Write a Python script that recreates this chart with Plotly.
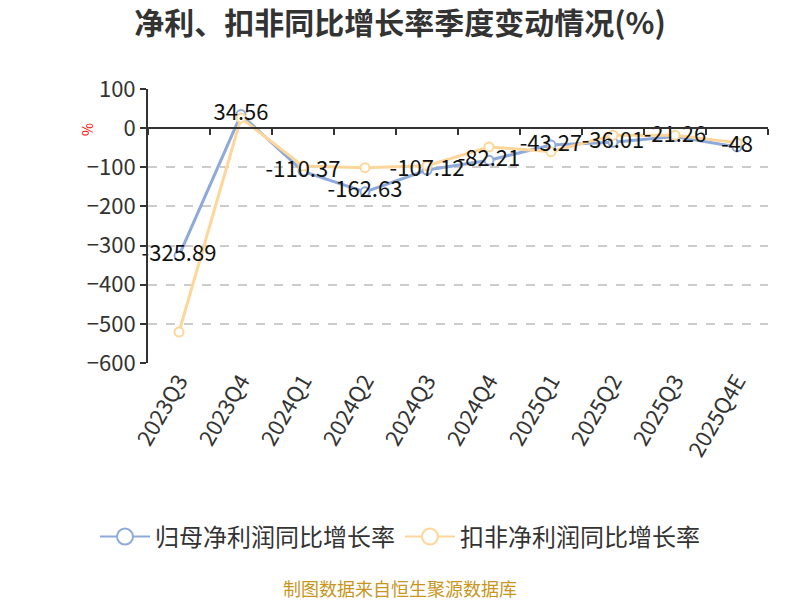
import plotly.graph_objects as go

quarters = ["2023Q3", "2023Q4", "2024Q1", "2024Q2", "2024Q3", "2024Q4",
            "2025Q1", "2025Q2", "2025Q3", "2025Q4E"]
net_profit_yoy = [-325.89, 34.56, -110.37, -162.63, -107.12, -82.21,
                  -43.27, -36.01, -21.26, -48]
deducted_yoy = [-521, 26, -97, -101, -96, -48, -60, -18, -18, -37]
net_labels = ["-325.89", "34.56", "-110.37", "-162.63", "-107.12", "-82.21",
              "-43.27", "-36.01", "-21.26", "-48"]
series_names = ["归母净利润同比增长率", "扣非净利润同比增长率"]

FONT = "Noto Sans CJK SC"
BLUE = "#8eaadb"
ORANGE = "#ffd699"

fig = go.Figure()
for vals, name, col in [(net_profit_yoy, series_names[0], BLUE),
                        (deducted_yoy, series_names[1], ORANGE)]:
    fig.add_trace(go.Scatter(
        x=quarters, y=vals, mode="lines+markers", name=name, showlegend=False,
        line=dict(color=col, width=3),
        marker=dict(symbol="circle", size=9, color="white", line=dict(color=col, width=2)),
    ))
fig.add_trace(go.Scatter(
    x=quarters, y=net_profit_yoy, mode="text", text=net_labels, cliponaxis=False,
    textposition="middle center", textfont=dict(size=22, color="#111", family=FONT),
    showlegend=False, hoverinfo="skip",
))
# legend entries with bigger symbols
for name, col in zip(series_names, [BLUE, ORANGE]):
    fig.add_trace(go.Scatter(
        x=[None], y=[None], mode="lines+markers", name=name,
        line=dict(color=col, width=2),
        marker=dict(symbol="circle", size=18, color="white", line=dict(color=col, width=2)),
    ))
# helper trace for the zero axis with boundary ticks
fig.add_trace(go.Scatter(
    x=quarters, y=[None] * len(quarters), xaxis="x2", showlegend=False, hoverinfo="skip",
))

fig.update_layout(
    width=800, height=600,
    paper_bgcolor="white", plot_bgcolor="white",
    margin=dict(l=148, r=32, t=89, b=237),
    font=dict(family=FONT, color="#333"),
    title=dict(text="<b>净利、扣非同比增长率季度变动情况(%)</b>", x=0.5,
               xanchor="center", y=1 - 23 / 600, yref="container", yanchor="middle",
               font=dict(size=30, color="#333", family=FONT)),
    xaxis=dict(type="category", categoryorder="array", categoryarray=quarters,
               range=[-0.5, 9.5], showline=False, showgrid=False, ticks="",
               tickangle=-60, tickfont=dict(size=22, color="#333")),
    xaxis2=dict(type="category", categoryorder="array", categoryarray=quarters,
                range=[-0.5, 9.5], overlaying="x", anchor="free", position=600 / 700,
                side="bottom", showline=True, linecolor="#333", linewidth=2,
                ticks="outside", tickson="boundaries", ticklen=6, tickwidth=2,
                tickcolor="#333", showticklabels=False, showgrid=False),
    yaxis=dict(range=[-600, 100], dtick=100, showline=True, linecolor="#333", linewidth=2,
               ticks="outside", ticklen=6, tickwidth=2, tickcolor="#333",
               showgrid=True, gridcolor="#cccccc", griddash="dash", gridwidth=1.5,
               zeroline=False, tickfont=dict(size=22, color="#333")),
    legend=dict(orientation="h", x=(400 - 148) / 620, xanchor="center",
                y=(363 - 537) / 274, yanchor="middle",
                font=dict(size=24, color="#333"), itemwidth=50),
    showlegend=True,
)

fig.add_annotation(text="%", x=(87 - 148) / 620, y=(363 - 130) / 274, xref="paper",
                   yref="paper", xanchor="center", yanchor="middle", textangle=-90,
                   showarrow=False, font=dict(size=14, color="red"))
fig.add_annotation(text="制图数据来自恒生聚源数据库", x=(400 - 148) / 620,
                   y=(363 - 588) / 274, xref="paper", yref="paper", yanchor="middle",
                   showarrow=False, font=dict(size=18, color="#c8961e"))

# drop the default page margin so the figure sits at the window's corner
fig.write_html("out.html", config={"displayModeBar": False},
               post_script="document.body.style.margin='0px';")
